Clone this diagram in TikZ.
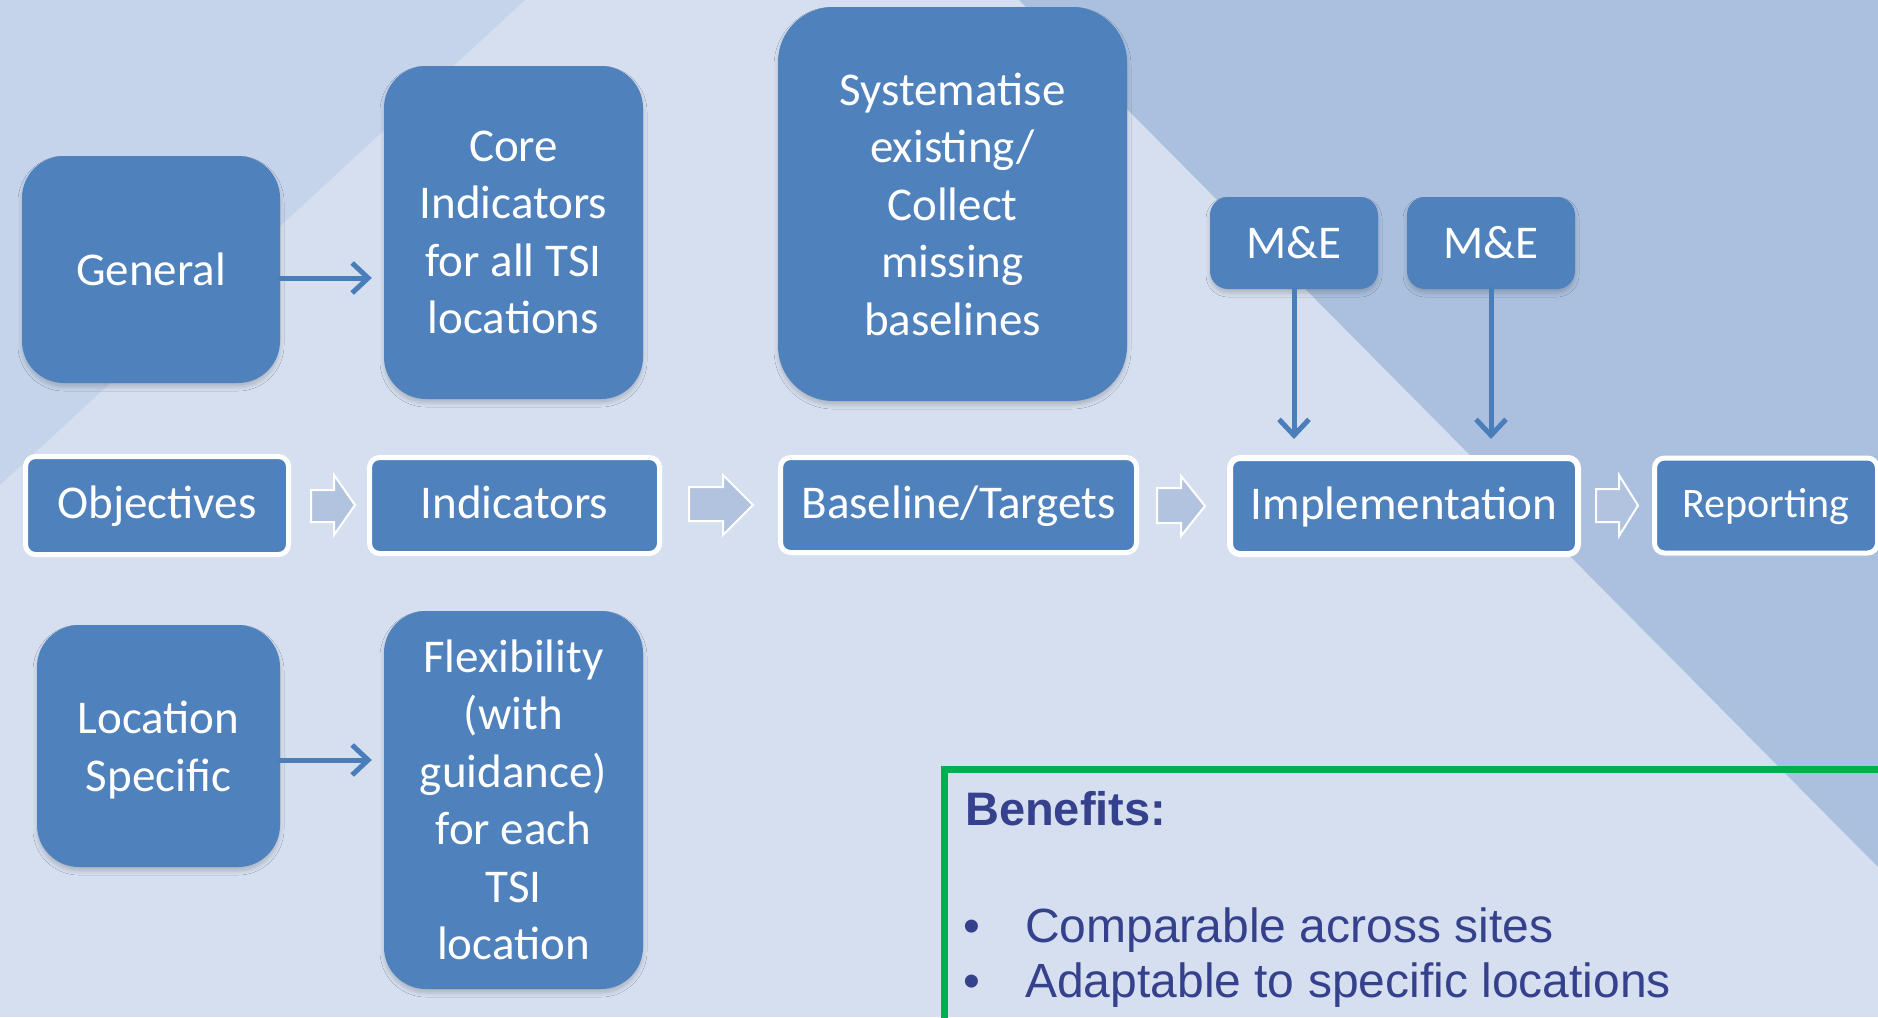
\documentclass[tikz,border=0pt]{standalone}
\usepackage{fontspec}
\setmainfont{Carlito}
\newfontfamily\arialfont{Liberation Sans}
\usetikzlibrary{arrows.meta,calc,shadows.blur}
\definecolor{bgmid}{HTML}{D5DFEF}
\definecolor{bgleft}{HTML}{C5D4EB}
\definecolor{bgright}{HTML}{ABC0DE}
\definecolor{boxblue}{HTML}{4F81BD}
\definecolor{connblue}{HTML}{4A7EBB}
\definecolor{harrow}{HTML}{B2C3DF}
\definecolor{benefgreen}{HTML}{00B050}
\definecolor{benefnavy}{HTML}{35418C}
\begin{document}
\begin{tikzpicture}[x=1pt,y=-1pt,
  bigbox/.style={fill=boxblue, text=white, align=center, inner sep=0pt,
    font=\fontsize{47}{57.5}\selectfont,
    blur shadow={shadow xshift=0pt, shadow yshift=-4pt, shadow blur radius=4pt, shadow opacity=18}},
  stagebox/.style={fill=boxblue, draw=white, line width=5pt, text=white, inner sep=0pt,
    rounded corners=10pt, font=\fontsize{47}{57.5}\selectfont, text height=26pt, text depth=0pt},
  conn/.style={draw=connblue, line width=5pt, line cap=round,
    -{Straight Barb[length=16pt,width=30pt,line width=5pt]}},
  hollow/.style={fill=harrow, draw=white, line width=2pt, line join=miter},
  bentext/.style={text=benefnavy, inner sep=0pt, anchor=base west,
    font=\arialfont\fontsize{48}{55}\selectfont}
]
\useasboundingbox (0,0) rectangle (1878,1017);
\clip (0,0) rectangle (1878,1017);
% background
\fill[bgmid] (0,0) rectangle (1878,1017);
\fill[bgleft] (0,0) -- (525,0) -- (0,485) -- cycle;
\fill[bgright] (1019,0) -- (1878,0) -- (1878,867) -- cycle;

% top row
\node[bigbox, rounded corners=42pt, minimum width=258pt, minimum height=227pt] (gen) at (151,269.5) {General};
\node[bigbox, rounded corners=42pt, minimum width=259pt, minimum height=333pt] (core) at (513.5,232.5) {Core\\Indicators\\for all TSI\\locations};
\node[bigbox, rounded corners=55pt, minimum width=349pt, minimum height=394pt] (sys) at (952.5,204) {Systematise\\existing/\\Collect\\missing\\baselines};
\node[bigbox, rounded corners=18pt, minimum width=168pt, minimum height=92pt] (me1) at (1294,243) {M\&E};
\node[bigbox, rounded corners=18pt, minimum width=168pt, minimum height=92pt] (me2) at (1491,243) {M\&E};

% bottom row
\node[bigbox, rounded corners=42pt, minimum width=243pt, minimum height=242pt] (loc) at (158.5,746) {\rule{0pt}{41pt}Location\\Specific};
\node[bigbox, rounded corners=42pt, minimum width=259pt, minimum height=378pt] (flex) at (513.5,800) {Flexibility\\(with\\guidance)\\for each\\TSI\\location};

% middle row
\node[stagebox, minimum width=263pt, minimum height=98pt] (obj) at (157,505.5) {Objectives};
\node[stagebox, minimum width=290pt, minimum height=96pt] (ind) at (514.5,505.5) {Indicators};
\node[stagebox, minimum width=356pt, minimum height=95pt] (base) at (958.5,505) {Baseline/Targets};
\node[stagebox, line width=6pt, minimum width=348pt, minimum height=96pt] (impl) at (1404,506) {Implementation};
\node[stagebox, minimum width=223pt, minimum height=95pt, font=\fontsize{42}{50}\selectfont, text height=24pt] (rep) at (1766,505.5) {Reporting};

% hollow block arrows between stages
\draw[hollow] (311,490) -- (334,490) -- (334,475) -- (355,505) -- (334,535) -- (334,522) -- (311,522) -- cycle;
\draw[hollow] (689,487) -- (723,487) -- (723,475) -- (753,505) -- (723,535) -- (723,521) -- (689,521) -- cycle;
\draw[hollow] (1157,488) -- (1181,488) -- (1181,476) -- (1205,506) -- (1181,536) -- (1181,523) -- (1157,523) -- cycle;
\draw[hollow] (1596,489) -- (1619,489) -- (1619,475) -- (1638,505.5) -- (1619,536) -- (1619,522) -- (1596,522) -- cycle;

% connectors
\coordinate (genout) at ($(gen.east)+(0,8.5)$);
\draw[conn, shorten >=12pt] (genout) -- (genout -| core.west);
\coordinate (locout) at ($(loc.east)+(0,14)$);
\draw[conn, shorten >=12pt] (locout) -- (locout -| flex.west);
\draw[conn, shorten >=16pt] (me1.south) -- (me1.south |- impl.north);
\draw[conn, shorten >=16pt] (me2.south) -- (me2.south |- impl.north);

% benefits box
\draw[benefgreen, line width=7pt, line join=miter] (944,1040) -- (944,769) -- (1900,769);
\node[bentext, font=\arialfont\bfseries\fontsize{47}{55}\selectfont] (bentitle) at (965,825) {Benefits:};
\node[bentext] (bul1) at (963,942) {•};
\node[bentext] (ben1) at (1025,942) {Comparable across sites};
\node[bentext] (bul2) at (963,997) {•};
\node[bentext] (ben2) at (1025,997) {Adaptable to specific locations};
\end{tikzpicture}
\end{document}
